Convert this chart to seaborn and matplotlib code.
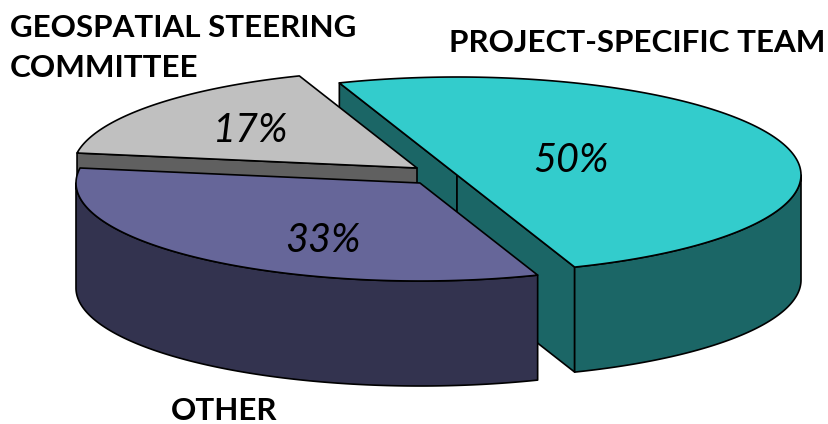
import numpy as np
import matplotlib
matplotlib.use('Agg')
import matplotlib.pyplot as plt
import seaborn as sns

# Data
slices = ['PROJECT-SPECIFIC TEAM', 'OTHER', 'GEOSPATIAL STEERING\nCOMMITTEE']
shares = [50, 33, 17]
top_colors = ['#33CCCC', '#666699', '#C0C0C0']
side_colors = ['#1B6666', '#33334F', '#606060']

# Pie layout, in pixels of the 829x424 picture
start_angle = 110
rx, ry, depth = 344, 98, 105
centers = [(457, 175), (420, 183), (417, 168)]
label_pos = [(449, 42.5), (171, 411), (10, 48)]
pct_pos = [(571, 161), (323, 241), (251, 130)]
draw_order = [0, 2, 1]

sns.set_theme(style='white')
plt.rcParams['font.family'] = ['Lato', 'DejaVu Sans']

fig, ax = plt.subplots(figsize=(8.29, 4.24), dpi=100)
fig.subplots_adjust(0, 0, 1, 1)
ax.set_xlim(0, 829)
ax.set_ylim(424, 0)
ax.axis('off')

def arc(cx, cy, a1, a2):
    t = np.radians(np.linspace(a1, a2, 160))
    return cx + rx * np.cos(t), cy - ry * np.sin(t)

def face(x, y, color):
    ax.fill(x, y, facecolor=color, edgecolor='black', linewidth=1.2, joinstyle='round')

ends = start_angle - np.cumsum(shares) * 3.6
starts = np.r_[start_angle, ends[:-1]]

for i in draw_order:
    cx, cy = centers[i]
    a1, a2 = starts[i], ends[i]
    # flat cut walls, only those that face the viewer
    for a, normal in ((a1, a1 + 90), (a2, a2 - 90)):
        if np.sin(np.radians(normal)) >= 0:
            continue
        ex, ey = arc(cx, cy, a, a)
        wx = [cx, ex[0], ex[0], cx]
        wy = [cy, ey[0], ey[0] + depth, cy + depth]
        face(wx, wy, side_colors[i])
    # curved outer wall, only the front half shows
    lo, hi = max(a2, -180), min(a1, 0)
    if hi > lo:
        x, y = arc(cx, cy, hi, lo)
        face(np.r_[x, x[::-1]], np.r_[y, y[::-1] + depth], side_colors[i])
    # top
    x, y = arc(cx, cy, a1, a2)
    face(np.r_[cx, x], np.r_[cy, y], top_colors[i])

for i, name in enumerate(slices):
    ax.text(label_pos[i][0], label_pos[i][1], name, ha='left', va='center',
            fontsize=22.6, fontweight='bold', color='black', linespacing=1.5)
    ax.text(pct_pos[i][0], pct_pos[i][1], f'{shares[i]}%', ha='center', va='center',
            fontsize=28.5, fontstyle='italic', color='black')

fig.savefig('out.png', dpi=100)
